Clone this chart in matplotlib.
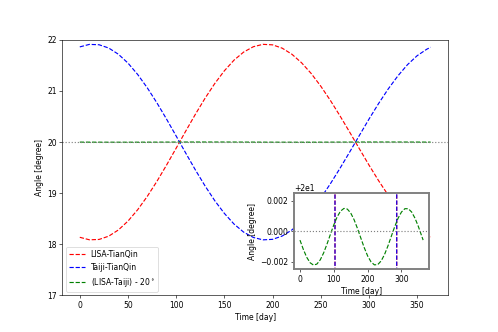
import numpy as np
import matplotlib
matplotlib.use("Agg")
import matplotlib.pyplot as plt

# time samples [day]
days = [0, 10, 20, 30, 40, 50, 60, 70, 80, 90, 100, 110, 120, 130, 140, 150, 160, 170, 180,
        190, 200, 210, 220, 230, 240, 250, 260, 270, 280, 290, 300, 310, 320, 330, 340, 350,
        360, 364]

# angle between LISA and TianQin [degree]
lisa_tianqin = [18.138, 18.089, 18.096, 18.160, 18.281, 18.455, 18.676, 18.938, 19.232,
                19.550, 19.882, 20.218, 20.547, 20.859, 21.145, 21.395, 21.603, 21.761,
                21.865, 21.912, 21.902, 21.837, 21.719, 21.553, 21.343, 21.094, 20.814,
                20.511, 20.194, 19.871, 19.551, 19.245, 18.960, 18.705, 18.485, 18.310,
                18.183, 18.146]

# angle between Taiji and TianQin [degree]
taiji_tianqin = [21.862, 21.911, 21.904, 21.840, 21.719, 21.545, 21.324, 21.062, 20.768,
                 20.450, 20.118, 19.782, 19.453, 19.141, 18.855, 18.605, 18.397, 18.239,
                 18.135, 18.088, 18.098, 18.163, 18.281, 18.447, 18.657, 18.906, 19.186,
                 19.489, 19.806, 20.129, 20.449, 20.755, 21.040, 21.295, 21.515, 21.690,
                 21.817, 21.854]

# (LISA-Taiji) deviation from 20 degree, in units of 1e-3 degree
lisa_taiji_dev = [-0.584, -1.200, -1.716, -2.073, -2.226, -2.159, -1.880, -1.422, -0.838,
                  -0.199, 0.421, 0.951, 1.325, 1.500, 1.456, 1.198, 0.755, 0.180, -0.457,
                  -1.082, -1.624, -2.015, -2.212, -2.191, -1.953, -1.527, -0.966, -0.330,
                  0.300, 0.854, 1.263, 1.482, 1.482, 1.267, 0.857, 0.308, -0.325, -0.581]

lisa_taiji = 20 + np.array(lisa_taiji_dev) * 1e-3

dpi = 498 / 9
fig = plt.figure(figsize=(9, 6), dpi=dpi)
ax = fig.add_subplot(111)

ax.plot(days, lisa_tianqin, 'r--', label='LISA-TianQin')
ax.plot(days, taiji_tianqin, 'b--', label='Taiji-TianQin')
ax.plot(days, lisa_taiji, 'g--', label=r'(LISA-Taiji) - 20$^\circ$')
ax.axhline(20, color='gray', ls=':')
ax.set_ylim(17, 22)
ax.set_xlabel('Time [day]')
ax.set_ylabel('Angle [degree]')
ax.legend(loc='lower left')

# inset zoom on the 20 degree line
axin = fig.add_axes([0.590, 0.189, 0.272, 0.229])
axin.plot(days, lisa_tianqin, 'r--')
axin.plot(days, taiji_tianqin, 'b--')
axin.plot(days, lisa_taiji, 'g--')
axin.axhline(20, color='gray', ls=':')
axin.set_ylim(20 - 0.0025, 20 + 0.0025)
axin.set_xticks([0, 100, 200, 300])
axin.set_xlabel('Time [day]')
axin.set_ylabel('Angle [degree]')
for s in axin.spines.values():
    s.set_edgecolor('gray')
    s.set_linewidth(2.5)

fig.savefig('out.png', dpi=dpi)
